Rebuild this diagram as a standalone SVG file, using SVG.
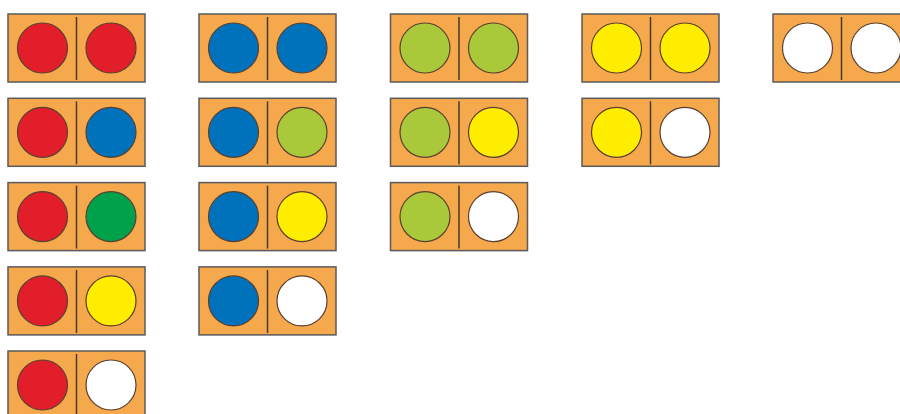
<svg xmlns="http://www.w3.org/2000/svg" xmlns:xlink="http://www.w3.org/1999/xlink" width="900" height="414" viewBox="0 0 900 414">
<style>
.tile{fill:#F6A84D;stroke:#5a5a5a;stroke-width:1.5}
.div{stroke:#4a3a2a;stroke-width:1.5}
.dot{stroke:#5a4030;stroke-width:1.2}
.r{fill:#E31E2B}.b{fill:#0071BB}.l{fill:#A9C93B}.g{fill:#00A14B}.y{fill:#FFED00}.w{fill:#FFFFFF}
</style>
<defs>
<g id="base">
<rect class="tile" x="0" y="0" width="137" height="68"/>
<line class="div" x1="68.5" y1="3" x2="68.5" y2="66"/>
</g>
</defs>
<g id="connectors"/>
<g id="d-rr" transform="translate(8,14)"><use xlink:href="#base"/><circle class="dot r" cx="34.5" cy="34" r="25"/><circle class="dot r" cx="103" cy="34" r="25"/></g>
<g id="d-rb" transform="translate(8,98.3)"><use xlink:href="#base"/><circle class="dot r" cx="34.5" cy="34" r="25"/><circle class="dot b" cx="103" cy="34" r="25"/></g>
<g id="d-rg" transform="translate(8,182.6)"><use xlink:href="#base"/><circle class="dot r" cx="34.5" cy="34" r="25"/><circle class="dot g" cx="103" cy="34" r="25"/></g>
<g id="d-ry" transform="translate(8,266.9)"><use xlink:href="#base"/><circle class="dot r" cx="34.5" cy="34" r="25"/><circle class="dot y" cx="103" cy="34" r="25"/></g>
<g id="d-rw" transform="translate(8,351)"><use xlink:href="#base"/><circle class="dot r" cx="34.5" cy="34" r="25"/><circle class="dot w" cx="103" cy="34" r="25"/></g>
<g id="d-bb" transform="translate(199,14)"><use xlink:href="#base"/><circle class="dot b" cx="34.5" cy="34" r="25"/><circle class="dot b" cx="103" cy="34" r="25"/></g>
<g id="d-bl" transform="translate(199,98.3)"><use xlink:href="#base"/><circle class="dot b" cx="34.5" cy="34" r="25"/><circle class="dot l" cx="103" cy="34" r="25"/></g>
<g id="d-by" transform="translate(199,182.6)"><use xlink:href="#base"/><circle class="dot b" cx="34.5" cy="34" r="25"/><circle class="dot y" cx="103" cy="34" r="25"/></g>
<g id="d-bw" transform="translate(199,266.9)"><use xlink:href="#base"/><circle class="dot b" cx="34.5" cy="34" r="25"/><circle class="dot w" cx="103" cy="34" r="25"/></g>
<g id="d-ll" transform="translate(390.5,14)"><use xlink:href="#base"/><circle class="dot l" cx="34.5" cy="34" r="25"/><circle class="dot l" cx="103" cy="34" r="25"/></g>
<g id="d-ly" transform="translate(390.5,98.3)"><use xlink:href="#base"/><circle class="dot l" cx="34.5" cy="34" r="25"/><circle class="dot y" cx="103" cy="34" r="25"/></g>
<g id="d-lw" transform="translate(390.5,182.6)"><use xlink:href="#base"/><circle class="dot l" cx="34.5" cy="34" r="25"/><circle class="dot w" cx="103" cy="34" r="25"/></g>
<g id="d-yy" transform="translate(582,14)"><use xlink:href="#base"/><circle class="dot y" cx="34.5" cy="34" r="25"/><circle class="dot y" cx="103" cy="34" r="25"/></g>
<g id="d-yw" transform="translate(582,98.3)"><use xlink:href="#base"/><circle class="dot y" cx="34.5" cy="34" r="25"/><circle class="dot w" cx="103" cy="34" r="25"/></g>
<g id="d-ww" transform="translate(773,14)"><use xlink:href="#base"/><circle class="dot w" cx="34.5" cy="34" r="25"/><circle class="dot w" cx="103" cy="34" r="25"/></g>
</svg>
